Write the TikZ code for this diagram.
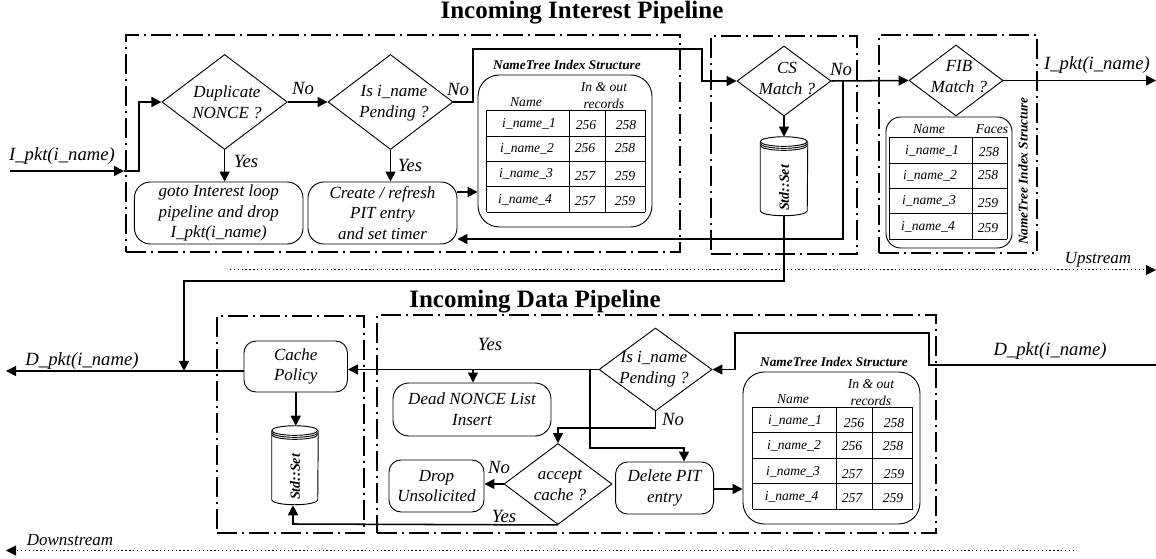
\documentclass[tikz,border=0pt]{standalone}
\usepackage{fontspec}
\setmainfont{Liberation Serif}
\usetikzlibrary{arrows.meta,shapes.geometric}
\tikzset{
  tip/.style={-{Triangle[length=7.5pt,width=7.5pt]}},
  conn/.style={line width=1.15pt,line join=miter},
  dots/.style={line width=0.75pt,dash pattern=on 1pt off 1.9pt},
  frame/.style={draw,line width=1pt,dash pattern=on 15pt off 3.5pt on 2pt off 3.5pt,inner sep=0pt},
  rbox/.style={draw,line width=0.7pt,rounded corners=12pt,inner sep=0pt,align=center,font=\fontsize{12.75}{15.5}\selectfont\itshape},
  sbox/.style={rbox,rounded corners=9pt},
  tbox/.style={draw,line width=0.7pt,rounded corners=16pt,inner sep=0pt},
  dec/.style={draw,diamond,aspect=1,line width=0.7pt,inner sep=0pt},
  body/.style={inner sep=0pt,align=center,font=\fontsize{12.75}{15.75}\selectfont\itshape},
  lab/.style={inner sep=0pt,font=\fontsize{14}{16}\selectfont\itshape},
  cell/.style={inner sep=0pt,align=center,font=\fontsize{10.2}{12.75}\selectfont\itshape},
  ntt/.style={inner sep=0pt,font=\fontsize{10}{12}\selectfont\bfseries\itshape},
  head/.style={inner sep=0pt,font=\fontsize{18.75}{22}\selectfont\bfseries},
  gridl/.style={line width=0.7pt},
  cylb/.style={line width=0.7pt},
}
\newcount\txcnt
\newcommand{\tx}[4]{\global\advance\txcnt by 1 \node[#1] (tx\the\txcnt) at (#2,#3) {#4};}
\newcommand{\shp}[7]{%
  \pgfmathsetmacro\bw{(#5-#3)*0.75}\pgfmathsetmacro\bh{(#6-#4)*0.75}%
  \node[#1,minimum width=\bw pt,minimum height=\bh pt] (#2) at ({(#3+#5)/2},{(#4+#6)/2}) {#7};}
\newcommand{\dia}[5]{%
  \pgfmathsetmacro\bw{#4*1.5}\pgfmathsetmacro\bh{#5*1.5}%
  \node[dec,minimum width=\bw pt,minimum height=\bh pt] (#1) at (#2,#3) {};}
\newcommand{\cyl}[6]{% name, cx, top, bottom, halfwidth, text-y
  \pgfmathsetmacro\cyw{#5*1.5}\pgfmathsetmacro\cyh{(#4-#3)*0.75}%
  \node[inner sep=0pt,minimum width=\cyw pt,minimum height=\cyh pt] (#1) at (#2,{(#3+#4)/2}) {};
  \draw[cylb] (#1.north west) ++(0,-3.6pt) coordinate (cy) arc[start angle=180,end angle=0,x radius=#5*0.75pt,y radius=3.6pt]
     arc[start angle=0,end angle=-180,x radius=#5*0.75pt,y radius=3.6pt];
  \draw[cylb] (cy) ++(0,-1.5pt) arc[start angle=180,end angle=360,x radius=#5*0.75pt,y radius=3.6pt];
  \draw[cylb] (cy) ++(0,-3pt) arc[start angle=180,end angle=360,x radius=#5*0.75pt,y radius=3.6pt];
  \draw[cylb] (cy) -- ++(0,{-\cyh pt+7.2pt})
     arc[start angle=180,end angle=360,x radius=#5*0.75pt,y radius=3.6pt] -- (cy -| #1.east);
  \tx{ntt,font=\fontsize{10.5}{12}\selectfont\bfseries\itshape,rotate=90}{#2}{#6}{Std::Set}}
\newcommand{\grid}[6]{%
  \foreach \yy in {#4} \draw[gridl] (#1,\yy)--(#2,\yy);
  \foreach \xx in {#1,#2,#3} \draw[gridl] (\xx,#5)--(\xx,#6);}
\begin{document}
\begin{tikzpicture}[x=0.75pt,y=-0.75pt]
\useasboundingbox (0,0) rectangle (1156,559);
% titles
\tx{head}{582}{13}{Incoming Interest Pipeline}
\tx{head}{535}{302}{Incoming Data Pipeline}
% frames
\shp{frame}{fa}{126}{35}{680}{252}{}
\shp{frame}{fb}{711}{36}{857}{254}{}
\shp{frame}{fc}{879}{35}{1037}{253}{}
\shp{frame}{fd}{217}{316}{364}{533}{}
\shp{frame}{fe}{377}{315}{936}{533}{}
% decisions top
\dia{dup}{224.6}{102}{62.7}{47.5}
\tx{body}{227}{102.5}{Duplicate\\NONCE ?}
\dia{pend}{390.5}{102}{62.5}{47.5}
\tx{body}{394}{103.5}{Is i\_name\\Pending ?}
\dia{cs}{784}{81}{47}{35}
\tx{body}{787}{78}{CS\\Match ?}
\dia{fib}{956}{80.5}{47}{35.5}
\tx{body}{959}{77}{FIB\\Match ?}
% boxes top
\shp{rbox}{goto}{134.4}{182}{303}{244}{goto Interest loop\\pipeline and drop\\I\_pkt(i\_name)}
\shp{rbox}{create}{308}{182}{457}{244}{Create / refresh\\PIT entry\\and set timer}
\shp{tbox}{nta}{478}{75}{652}{227}{}
\shp{tbox,rounded corners=11pt}{ntb}{886}{117}{1012}{248}{}
\cyl{csstore}{784}{137}{216}{23.5}{188}
% table A
\tx{ntt}{567}{65}{NameTree Index Structure}
\tx{cell}{526}{102.5}{Name}
\tx{cell}{604}{95.5}{In \& out\\records}
\grid{486.5}{645}{569,605}{110,136,161,186,212}{110}{212}
\tx{cell}{529}{124}{i\_name\_1}\tx{cell}{586}{125}{256}\tx{cell}{626}{125}{258}
\tx{cell}{527}{149}{i\_name\_2}\tx{cell}{585}{148}{256}\tx{cell}{625}{148}{258}
\tx{cell}{526}{174}{i\_name\_3}\tx{cell}{585}{176}{257}\tx{cell}{625}{176}{259}
\tx{cell}{525}{200}{i\_name\_4}\tx{cell}{585}{201}{257}\tx{cell}{625}{201}{259}
% table B
\tx{cell}{929}{129.5}{Name}\tx{cell}{992}{129}{Faces}
\grid{889}{1007}{972}{137,163,188,213,239}{137}{239}
\tx{cell}{932}{151}{i\_name\_1}\tx{cell}{989}{152}{258}
\tx{cell}{930}{176}{i\_name\_2}\tx{cell}{988}{175}{258}
\tx{cell}{929}{201}{i\_name\_3}\tx{cell}{988}{203}{259}
\tx{cell}{928}{227}{i\_name\_4}\tx{cell}{988}{228}{259}
\tx{ntt,rotate=90}{1023}{171}{NameTree Index Structure}
% top connectors
\coordinate (inS) at (9.5,171);
\coordinate (inE) at (124,171);
\coordinate (inK) at (139,171);
\draw[conn,tip] (inS) -- (inE);
\draw[conn,tip] (inE) -- (inK) |- (dup.west);
\draw[conn,tip] (dup.east) -- (pend.west);
\draw[conn,tip] (dup.south) -- (goto.north -| dup.south);
\draw[conn,tip] (pend.south) -- (create.north -| pend.south);
\coordinate (p1) at (473,49);
\coordinate (p2) at (702,49);
\draw[conn,tip] (pend.east) -| (p1) -- (p2) |- (cs.west);
\draw[conn,tip] (cs.east) -- (fib.west);
\coordinate (outE) at (1156,80.5);
\draw[conn,tip] (fib.east) -- (outE);
\coordinate (b1) at (843,81);
\coordinate (b2) at (843,239);
\draw[conn,tip] (b1) -- (b2) -- (create.east |- b2);
\coordinate (c1) at (457,192);
\draw[conn,tip] (c1) -- (nta.west |- c1);
\draw[conn,tip] (cs.south) -- (csstore.north);
\coordinate (usS) at (230,270);
\coordinate (usE) at (1156,270);
\draw[dots,tip] (usS) -- (usE);
% top labels
\tx{lab}{62}{156}{I\_pkt(i\_name)}
\tx{lab}{303}{88}{No}
\tx{lab}{458}{89}{No}
\tx{lab}{246}{161}{Yes}
\tx{lab}{410}{165}{Yes}
\tx{lab}{841}{69}{No}
\tx{lab}{1097}{65.5}{I\_pkt(i\_name)}
\tx{body}{1098}{260}{Upstream}
% lower shapes
\shp{sbox}{cache}{244}{341}{347.5}{392}{Cache\\Policy}
\cyl{dstore}{295}{426}{505}{23}{477}
\dia{dpend}{655.5}{369.5}{56.5}{41.5}
\tx{body}{654}{369}{Is i\_name\\Pending ?}
\shp{rbox}{dead}{393}{383}{551}{436}{Dead NONCE List\\Insert}
\dia{acc}{558}{484}{54}{40.5}
\tx{body}{560}{485.5}{accept\\cache ?}
\shp{sbox}{drop}{389}{460}{484}{512}{Drop\\Unsolicited}
\shp{sbox}{del}{615.6}{462}{713.6}{514}{Delete PIT\\entry}
\shp{tbox}{ntc}{743}{372}{920}{524}{}
% table C
\tx{ntt}{834}{362}{NameTree Index Structure}
\tx{cell}{793}{399}{Name}
\tx{cell}{871}{392.5}{In \& out\\records}
\grid{752.6}{912.6}{836,872.5}{407,432,458,483,509}{407}{509}
\tx{cell}{795}{421}{i\_name\_1}\tx{cell}{854}{423}{256}\tx{cell}{894}{423}{258}
\tx{cell}{794}{446}{i\_name\_2}\tx{cell}{852}{446}{256}\tx{cell}{893}{446}{258}
\tx{cell}{793}{472}{i\_name\_3}\tx{cell}{852}{474}{257}\tx{cell}{894}{474}{259}
\tx{cell}{791.6}{497}{i\_name\_4}\tx{cell}{852}{498}{257}\tx{cell}{893}{498}{259}
% lower connectors
\coordinate (d0) at (1156,365);
\coordinate (d1) at (929,365);
\coordinate (d2) at (929,333);
\coordinate (d3) at (735,333);
\draw[conn,tip] (d0) -- (d1) -- (d2) -- (d3) |- (dpend.east);
\draw[conn,tip] (dpend.west) -- (cache.east |- dpend.west);
\coordinate (y1) at (473,369.5);
\draw[conn,tip] (y1) -- (dead.north -| y1);
\coordinate (y2) at (590,369.5);
\coordinate (y3) at (590,448);
\coordinate (y4) at (684,448);
\draw[conn,tip] (y2) -- (y3) -- (y4) -- (del.north -| y4);
\coordinate (n1) at (655.5,428);
\draw[conn,tip] (dpend.south) -- (n1) -| (acc.north);
\draw[conn,tip] (acc.west) -- (drop.east |- acc.west);
\coordinate (s1) at (293,524);
\draw[conn,tip] (acc.south) -- (s1) -- (dstore.south -| s1);
\draw[conn,tip] (cache.south) -- (cache.south |- dstore.north);
\coordinate (e1) at (713.6,489);
\draw[conn,tip] (e1) -- (ntc.west |- e1);
\coordinate (dout) at (6,371);
\draw[conn,tip] (cache.west |- dout) -- (dout);
\coordinate (q1) at (784,281);
\coordinate (q2) at (184,281);
\coordinate (q3) at (184,371);
\draw[conn,tip] (csstore.south) -- (q1) -- (q2) -- (q3);
\coordinate (dsS) at (1074,550.5);
\coordinate (dsE) at (6,550.5);
\draw[dots,tip] (dsS) -- (dsE);
% lower labels
\tx{lab}{82}{361}{D\_pkt(i\_name)}
\tx{lab}{1050}{351}{D\_pkt(i\_name)}
\tx{lab}{490}{344}{Yes}
\tx{lab}{673}{419}{No}
\tx{lab}{499}{467}{No}
\tx{lab}{504}{516}{Yes}
\tx{body}{70}{540}{Downstream}
\end{tikzpicture}
\end{document}
